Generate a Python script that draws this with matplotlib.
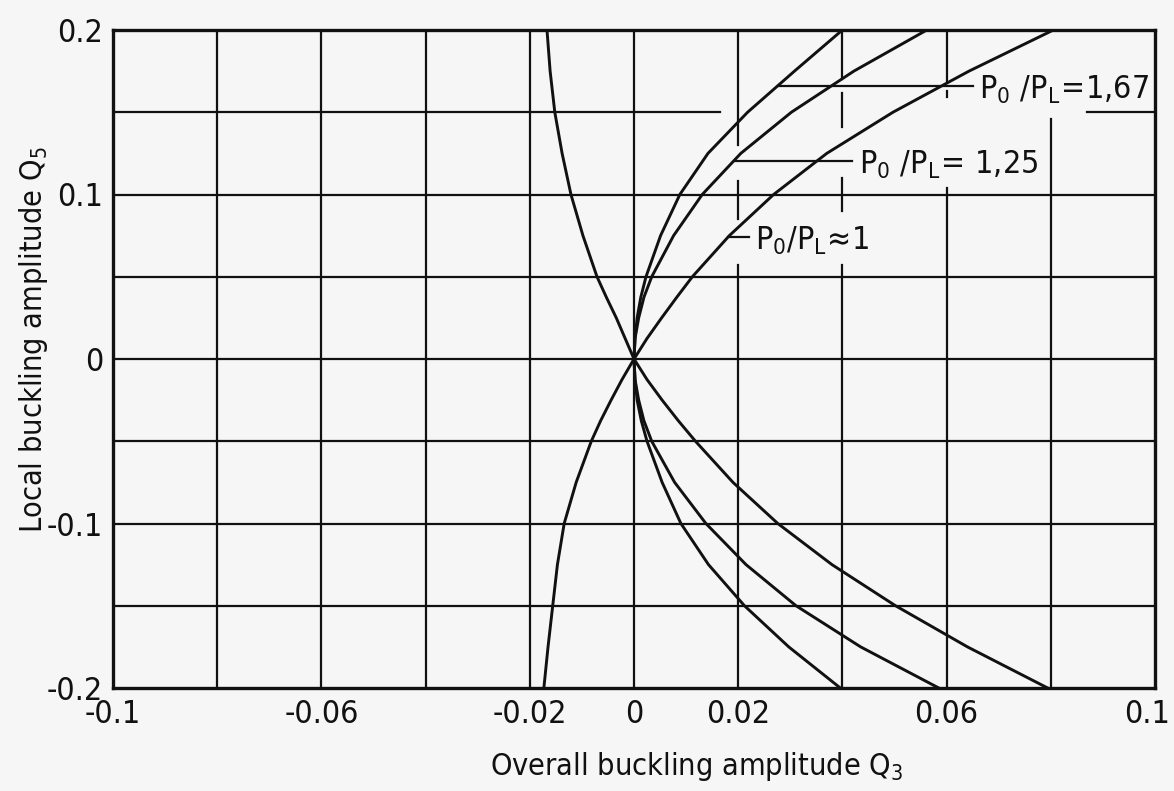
import numpy as np
import matplotlib
matplotlib.use("Agg")
import matplotlib.pyplot as plt
from matplotlib.transforms import offset_copy

# =========================
# DATA
# =========================
q5_up = [0, 0.0125, 0.025, 0.0375, 0.05, 0.075, 0.1, 0.125, 0.15, 0.175, 0.2]
q5_dn = [0, -0.0125, -0.025, -0.0375, -0.05, -0.075, -0.1, -0.125, -0.15, -0.175, -0.2]

# P0/PL = 1,67
q3_a_up = [0, 0.0002, 0.0006, 0.0013, 0.0023, 0.0051, 0.0088, 0.0142, 0.0218, 0.0308, 0.0400]
q3_a_dn = [0, 0.0002, 0.0006, 0.0014, 0.0025, 0.0054, 0.0090, 0.0143, 0.0212, 0.0297, 0.0396]
# P0/PL = 1,25
q3_b_up = [0, 0.0002, 0.0009, 0.0019, 0.0034, 0.0076, 0.0131, 0.0205, 0.0302, 0.0422, 0.0562]
q3_b_dn = [0, 0.0002, 0.0009, 0.0019, 0.0034, 0.0078, 0.0138, 0.0215, 0.0311, 0.0435, 0.0585]
# P0/PL ~ 1
q3_c_up = [0, 0.0025, 0.0053, 0.0082, 0.0112, 0.0183, 0.0268, 0.0370, 0.0497, 0.0643, 0.0805]
q3_c_dn = [0, 0.0025, 0.0054, 0.0085, 0.0118, 0.0190, 0.0276, 0.0380, 0.0502, 0.0640, 0.0794]
# left branch
q3_d_up = [0, -0.0017, -0.0034, -0.0053, -0.0071, -0.0098, -0.0121, -0.0138, -0.0152, -0.0161, -0.0167]
q3_d_dn = [0, -0.0023, -0.0044, -0.0064, -0.0082, -0.0111, -0.0134, -0.0147, -0.0156, -0.0165, -0.0173]

labels = [r"$\mathregular{P_0\ /P_L\!=\!1{,}67}$",
          r"$\mathregular{P_0\ /P_L\!=\,1{,}25}$",
          r"$\mathregular{P_0/P_L\!\approx\!1}$"]
label_levels = [0.166, 0.1205, 0.074]
label_x = [0.0663, 0.0431, 0.0233]

xticks = [-0.1, -0.06, -0.02, 0, 0.02, 0.06, 0.1]
xticklabels = ["-0.1", "-0.06", "-0.02", "0", "0.02", "0.06", "0.1"]
yticks = [-0.2, -0.1, 0, 0.1, 0.2]
yticklabels = ["-0.2", "-0.1", "0", "0.1", "0.2"]

# =========================
# STYLE
# =========================
plt.rcParams["font.family"] = ["DejaVu Sans"]
plt.rcParams["font.stretch"] = "condensed"
plt.rcParams["mathtext.default"] = "regular"
BG = "#f6f6f6"
INK = "#111111"

fig = plt.figure(figsize=(11.74, 7.91), dpi=100, facecolor=BG)
ax = fig.add_axes([113 / 1174, 1 - 688 / 791, (1155 - 113) / 1174, (688 - 30) / 791])
ax.set_facecolor(BG)
ax.set_xlim(-0.1, 0.1)
ax.set_ylim(-0.2, 0.2)

# =========================
# GRID (broken where the labels sit)
# =========================
grid_kw = dict(color=INK, lw=1.6, zorder=1)
for gx in np.arange(-0.08, 0.09, 0.02):
    gx = round(gx, 2)
    if gx == 0.02:
        spans = [(-0.2, 0.057), (0.085, 0.108), (0.13, 0.2)]
    elif gx == 0.04:
        spans = [(-0.2, 0.057), (0.09, 0.11), (0.141, 0.162), (0.17, 0.2)]
    elif gx == 0.06:
        spans = [(-0.2, 0.104), (0.159, 0.163), (0.168, 0.2)]
    elif gx == 0.08:
        spans = [(-0.2, 0.146)]
    else:
        spans = [(-0.2, 0.2)]
    for y0, y1 in spans:
        ax.plot([gx, gx], [y0, y1], **grid_kw)

for gy in np.arange(-0.15, 0.16, 0.05):
    gy = round(gy, 2)
    if gy == 0.15:
        spans = [(-0.1, 0.0165), (0.087, 0.1)]
    else:
        spans = [(-0.1, 0.1)]
    for x0, x1 in spans:
        ax.plot([x0, x1], [gy, gy], **grid_kw)

# =========================
# CURVES
# =========================
curve_kw = dict(color=INK, lw=2.1, zorder=3, solid_joinstyle="round")
for q3u, q3d in [(q3_a_up, q3_a_dn), (q3_b_up, q3_b_dn),
                 (q3_c_up, q3_c_dn), (q3_d_up, q3_d_dn)]:
    ax.plot(q3u, q5_up, **curve_kw)
    ax.plot(q3d, q5_dn, **curve_kw)

# labels with leader lines back to their curve
for txt, lev, tx, q3u in zip(labels, label_levels, label_x, [q3_a_up, q3_b_up, q3_c_up]):
    x_curve = np.interp(lev, q5_up, q3u)
    ax.plot([x_curve, tx - 0.0012], [lev, lev], color=INK, lw=1.6, zorder=3)
    ax.annotate(txt, xy=(tx, lev), xytext=(0, -9), textcoords="offset points",
                fontsize=23, color=INK, va="baseline", ha="left", zorder=4)

# =========================
# AXES
# =========================
for s in ax.spines.values():
    s.set_linewidth(2.4)
    s.set_color(INK)

ax.set_xticks(xticks)
ax.set_xticklabels(xticklabels)
ax.set_yticks(yticks)
ax.set_yticklabels(yticklabels)
ax.tick_params(length=0, labelsize=23, colors=INK)
ax.tick_params(axis="x", pad=8)
ax.tick_params(axis="y", pad=7)

# last x label sits a little inside the right edge
last = ax.get_xticklabels()[-1]
last.set_transform(offset_copy(last.get_transform(), fig=fig, x=-8, units="dots"))

ax.set_xlabel(r"Overall buckling amplitude Q$_3$", fontsize=22, color=INK)
ax.xaxis.set_label_coords(0.56, -0.094)
ax.set_ylabel(r"Local buckling amplitude Q$_5$", fontsize=22, color=INK)
ax.yaxis.set_label_coords(-0.06, 0.53)

fig.savefig("out.png", dpi=100, facecolor=BG)
